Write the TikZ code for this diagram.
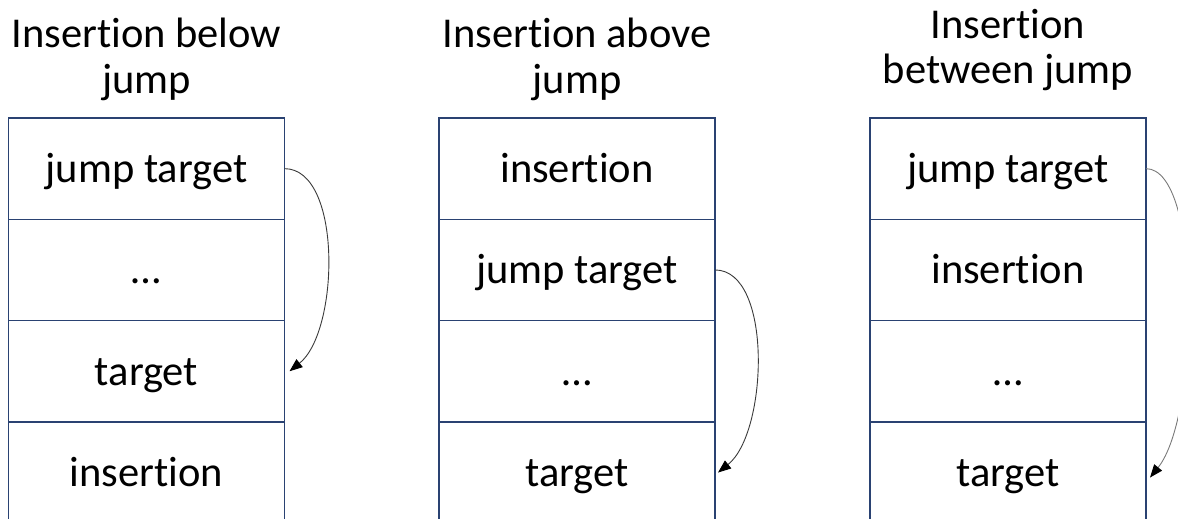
\documentclass[tikz,border=0pt]{standalone}
\usepackage{fontspec}
\setmainfont{Carlito}[Ligatures=NoCommon]
\usetikzlibrary{arrows.meta}
\definecolor{boxblue}{HTML}{2A4272}
\definecolor{arrowdark}{HTML}{3A3A3A}
\definecolor{arrowgray}{HTML}{7A7A7A}
\newcommand{\cellfont}{\fontsize{42.5}{46}\selectfont}
\begin{document}
\begin{tikzpicture}[x=1pt,y=-1pt,
  cell/.style={draw=boxblue, line width=1.6pt, minimum width=276pt,
    minimum height=101.3pt, inner sep=0pt, outer sep=0pt, anchor=north,
    font=\cellfont, text height=36pt, text depth=8pt},
  head/.style={font=\cellfont, inner sep=0pt, anchor=base},
  jumparrow/.style={line width=0.9pt,
    -{Triangle[length=13pt,width=10pt,color=black]}}]
\useasboundingbox (0,0) rectangle (1178,519);
\clip (0,0) rectangle (1178,519);

% column headings
\node[head] (ta1) at (146.5,48) {Insertion below};
\node[head] (ta2) at (146.5,93) {jump};
\node[head] (tb1) at (577,48) {Insertion above};
\node[head] (tb2) at (577,93) {jump};
\node[head] (tc1) at (1008,39) {Insertion};
\node[head] (tc2) at (1008,83) {between jump};

% stack: insertion below jump
\node[cell] (a1) at (146.5,118) {jump target};
\node[cell] (a2) at (a1.south) {…};
\node[cell] (a3) at (a2.south) {target};
\node[cell] (a4) at (a3.south) {insertion};

% stack: insertion above jump
\node[cell] (b1) at (577,118) {insertion};
\node[cell] (b2) at (b1.south) {jump target};
\node[cell] (b3) at (b2.south) {…};
\node[cell] (b4) at (b3.south) {target};

% stack: insertion between jump
\node[cell] (c1) at (1008,118) {jump target};
\node[cell] (c2) at (c1.south) {insertion};
\node[cell] (c3) at (c2.south) {…};
\node[cell] (c4) at (c3.south) {target};

% jumps
\coordinate (ae) at ([xshift=5pt]a3.east);
\coordinate (be) at ([xshift=3pt]b4.east);
\coordinate (ce) at ([xshift=4pt,yshift=-5pt]c4.east);
\draw[jumparrow, draw=arrowdark] (a1.east) .. controls +(58,0) and +(50,-40) .. (ae);
\draw[jumparrow, draw=arrowdark] (b2.east) .. controls +(58,0) and +(50,-40) .. (be);
\draw[jumparrow, draw=arrowgray] (c1.east) .. controls +(56,0) and +(50,-62) .. (ce);
\end{tikzpicture}
\end{document}
